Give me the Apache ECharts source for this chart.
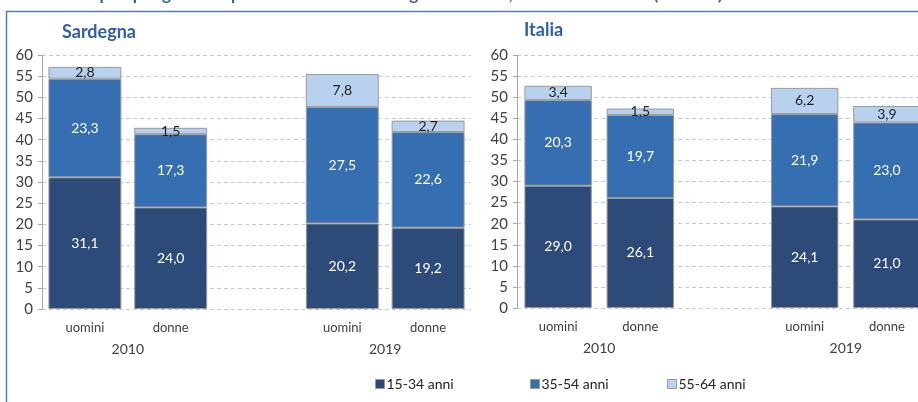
<!DOCTYPE html>
<html>
<head>
<meta charset="utf-8">
<script src="https://cdn.jsdelivr.net/npm/echarts@6/dist/echarts.min.js"></script>
<style>
  html, body { margin: 0; padding: 0; background: #fff; }
  #chart { width: 918px; height: 402px; }
</style>
</head>
<body>
<div id="chart"></div>
<script>
// categories: two years, each with uomini / donne, empty slot between them
const categories = ["uomini", "donne", "", "uomini", "donne"];
const years = ["2010", "2019"];
const ageGroups = ["15-34 anni", "35-54 anni", "55-64 anni"];

// Sardegna (%)
const sarYoung = [31.1, 24.0, null, 20.2, 19.2];
const sarMid = [23.3, 17.3, null, 27.5, 22.6];
const sarOld = [2.8, 1.5, null, 7.8, 2.7];

// Italia (%)
const itaYoung = [29.0, 26.1, null, 24.1, 21.0];
const itaMid = [20.3, 19.7, null, 21.9, 23.0];
const itaOld = [3.4, 1.5, null, 6.2, 3.9];

const colors = ["#2d4a79", "#356fb1", "#b7d1ee"];
const labelColors = ["#ffffff", "#ffffff", "#222222"];
const FONT = "Lato, 'Open Sans', sans-serif";

const chart = echarts.init(document.getElementById("chart"));

function fmt(v) {
    return v.toFixed(1).replace(".", ",");
}

function yAxisFor(gridIndex) {
    return {
        type: "value",
        gridIndex,
        min: 0,
        max: 60,
        interval: 5,
        axisLine: { show: true, lineStyle: { color: "#a6a6a6", width: 1 } },
        axisTick: { show: true, length: 4, lineStyle: { color: "#a6a6a6" } },
        axisLabel: { color: "#404040", fontSize: 15, fontFamily: FONT, margin: 9 },
        splitLine: { show: true, lineStyle: { color: "#c8c8c8", type: [4, 3], width: 1 } },
    };
}

function catAxisFor(gridIndex) {
    return {
        type: "category",
        gridIndex,
        data: categories,
        axisLine: { show: false },
        axisTick: { show: false },
        axisLabel: { color: "#404040", fontSize: 13, fontFamily: FONT, margin: 12, interval: 0 },
    };
}

function yearAxisFor(gridIndex) {
    // value axis spanning the 5 slots; years centred between each pair of bars
    return {
        type: "value",
        gridIndex,
        position: "bottom",
        offset: 21,
        min: 0,
        max: categories.length,
        interval: 1,
        axisLine: { show: false },
        axisTick: { show: false },
        splitLine: { show: false },
        axisLabel: {
            color: "#404040",
            fontSize: 14,
            fontFamily: FONT,
            margin: 12,
            showMinLabel: true,
            showMaxLabel: true,
            formatter(v) {
                if (v === 1) return years[0];
                if (v === 4) return years[1];
                return "";
            },
        },
    };
}

function seriesFor(gridIndex, data, k, gap) {
    return {
        name: ageGroups[k],
        type: "bar",
        stack: "s" + gridIndex,
        xAxisIndex: gridIndex * 2,
        yAxisIndex: gridIndex,
        barCategoryGap: gap,
        data,
        itemStyle: { color: colors[k], borderColor: "#9a9a9a", borderWidth: 1 },
        label: {
            show: true,
            position: "inside",
            color: labelColors[k],
            fontSize: 14,
            fontFamily: FONT,
            formatter: (p) => fmt(p.value),
        },
    };
}

const legendBase = {
    bottom: 6,
    icon: "rect",
    itemWidth: 9,
    itemHeight: 9,
    itemGap: 0,
    textStyle: { color: "#222", fontSize: 14, fontFamily: FONT, padding: [0, 0, 0, -3] },
    selectedMode: false,
};

chart.setOption({
    backgroundColor: "#fff",
    animation: false,
    grid: [
        { left: 42, width: 429, top: 55, bottom: 93, outerBoundsMode: "none" },
        { left: 517, width: 411, top: 55, bottom: 94, outerBoundsMode: "none" },
    ],
    xAxis: [catAxisFor(0), yearAxisFor(0), catAxisFor(1), yearAxisFor(1)],
    yAxis: [yAxisFor(0), yAxisFor(1)],
    legend: [
        Object.assign({}, legendBase, { left: 370, data: [{ name: ageGroups[0], itemStyle: { borderColor: "#9a9a9a", borderWidth: 1 } }] }),
        Object.assign({}, legendBase, { left: 525, data: [{ name: ageGroups[1], itemStyle: { borderColor: "#9a9a9a", borderWidth: 1 } }] }),
        Object.assign({}, legendBase, { left: 662, data: [{ name: ageGroups[2], itemStyle: { borderColor: "#9a9a9a", borderWidth: 1 } }] }),
    ],
    graphic: [
        {
            type: "rect",
            shape: { x: 6.5, y: 11.5, width: 1000, height: 600 },
            style: { fill: "none", stroke: "#4f7fbf", lineWidth: 1.5 },
            silent: true,
        },
        {
            type: "text",
            left: 60,
            top: -14,
            style: {
                text: "Occupati per genere e per fascia d'età in Sardegna e in Italia, anni 2010 e 2019 (valori %)",
                fill: "#2f5fa6",
                font: "bold 17px " + FONT,
            },
            silent: true,
        },
        {
            type: "text",
            left: 62,
            top: 23,
            style: { text: "Sardegna", fill: "#2f5fa6", font: "bold 18px " + FONT },
        },
        {
            type: "text",
            left: 524,
            top: 21,
            style: { text: "Italia", fill: "#2f5fa6", font: "bold 18px " + FONT },
        },
    ],
    series: [
        seriesFor(0, sarYoung, 0, "15%"),
        seriesFor(0, sarMid, 1, "15%"),
        seriesFor(0, sarOld, 2, "15%"),
        seriesFor(1, itaYoung, 0, "18%"),
        seriesFor(1, itaMid, 1, "18%"),
        seriesFor(1, itaOld, 2, "18%"),
    ],
});
</script>
</body>
</html>
